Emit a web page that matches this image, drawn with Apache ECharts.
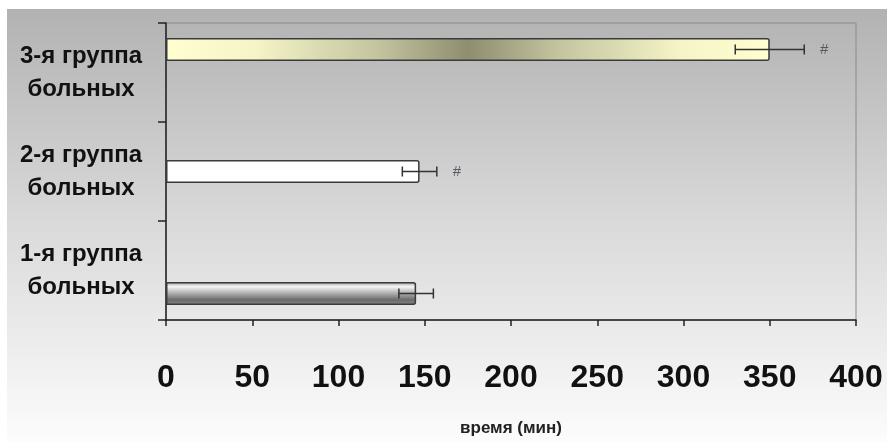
<!DOCTYPE html>
<html>
<head>
<meta charset="utf-8">
<script src="https://cdn.jsdelivr.net/npm/echarts@6/dist/echarts.min.js"></script>
<style>
html,body{margin:0;padding:0;background:#fff;}
#c{width:887px;height:442px;}
</style>
</head>
<body>
<div id="c"></div>
<script>
// Data
var categories = ['1-я группа\nбольных', '2-я группа\nбольных', '3-я группа\nбольных'];
var values = [145, 147, 350];
var errors = [10, 10, 20];
var sigMarks = ['', '#', '#'];
var xTicks = [0, 50, 100, 150, 200, 250, 300, 350, 400];
var axisName = 'время (мин)';

var barStyles = [
  { color: { type: 'linear', x: 0, y: 0, x2: 0, y2: 1, colorStops: [
      { offset: 0, color: '#9c9c9c' }, { offset: 0.2, color: '#f6f6f6' },
      { offset: 0.45, color: '#b8b8b8' }, { offset: 0.78, color: '#6a6a6a' },
      { offset: 1, color: '#8a8a8a' }] } },
  { color: '#ffffff' },
  { color: { type: 'linear', x: 0, y: 0, x2: 1, y2: 0, colorStops: [
      { offset: 0, color: '#ffffd0' }, { offset: 0.15, color: '#f4f4c6' },
      { offset: 0.35, color: '#c4c4a0' }, { offset: 0.5, color: '#8e8e70' },
      { offset: 0.65, color: '#c4c4a0' }, { offset: 0.85, color: '#f4f4c6' },
      { offset: 1, color: '#ffffd0' }] } }
];

var barW = 23;
var series = [];
// ECharts places the first bar series at the top of each band, so add groups from last to first
for (var k = values.length - 1; k >= 0; k--) {
  var d = values.map(function () { return null; });
  d[k] = values[k];
  series.push({
    type: 'bar', data: d, barWidth: barW, barGap: '0%',
    itemStyle: Object.assign({ borderColor: '#3a3a3a', borderWidth: 1.5, borderRadius: [0, 2, 2, 0] }, barStyles[k]),
    silent: true
  });
}
var errData = values.map(function (v, i) { return [i, v - errors[i], v + errors[i]]; });
series.push({
  type: 'custom',
  data: errData,
  encode: { x: [1, 2], y: 0 },
  renderItem: function (params, api) {
    var idx = api.value(0);
    var off = barW * (1 - idx);
    var lo = api.coord([api.value(1), idx]);
    var hi = api.coord([api.value(2), idx]);
    var y = lo[1] + off;
    var c = 5;
    var ls = { stroke: '#333', lineWidth: 1.5 };
    var children = [
      { type: 'line', shape: { x1: lo[0], y1: y, x2: hi[0], y2: y }, style: ls },
      { type: 'line', shape: { x1: lo[0], y1: y - c, x2: lo[0], y2: y + c }, style: ls },
      { type: 'line', shape: { x1: hi[0], y1: y - c, x2: hi[0], y2: y + c }, style: ls }
    ];
    var mark = sigMarks[idx];
    if (mark) {
      children.push({ type: 'text', x: hi[0] + 20, y: y,
        style: { text: mark, fill: '#555a66', fontSize: 15, fontFamily: 'Liberation Sans', align: 'center', verticalAlign: 'middle' } });
    }
    return { type: 'group', children: children };
  },
  z: 5, silent: true
});

var chart = echarts.init(document.getElementById('c'), null, { renderer: 'canvas' });
chart.setOption({
  animation: false,
  graphic: [{
    type: 'rect', z: -10, silent: true,
    shape: { x: 7, y: 9, width: 880, height: 433 },
    style: { fill: { type: 'linear', x: 0, y: 0, x2: 0, y2: 1, colorStops: [
      { offset: 0, color: '#b2b2b2' }, { offset: 0.5, color: '#dadada' }, { offset: 1, color: '#fcfcfc' }] } }
  }],
  grid: { left: 166, right: 31, top: 23, bottom: 115, show: true, borderColor: '#8a8a8a', borderWidth: 1, backgroundColor: 'transparent' },
  xAxis: {
    type: 'value', min: xTicks[0], max: xTicks[xTicks.length - 1], interval: xTicks[1] - xTicks[0],
    axisLine: { show: true, lineStyle: { color: '#222', width: 1.5 } },
    axisTick: { show: true, length: 6, lineStyle: { color: '#222', width: 1.5 } },
    splitLine: { show: false },
    axisLabel: { margin: 42, fontSize: 32, fontWeight: 'bold', color: '#111', fontFamily: '"Liberation Sans", sans-serif' },
    name: axisName, nameLocation: 'middle', nameGap: 100,
    nameTextStyle: { fontSize: 17, fontWeight: 'bold', color: '#222', fontFamily: '"Liberation Sans", sans-serif' }
  },
  yAxis: {
    type: 'category', data: categories,
    axisLine: { show: true, lineStyle: { color: '#222', width: 1.5 } },
    axisTick: { show: true, length: 8, lineStyle: { color: '#222', width: 1.5 } },
    axisLabel: { margin: 85, align: 'center', fontSize: 24, lineHeight: 33, padding: [12, 0, 0, 0], fontWeight: 'bold', color: '#111', fontFamily: '"Liberation Sans", sans-serif' }
  },
  series: series
});
</script>
</body>
</html>
